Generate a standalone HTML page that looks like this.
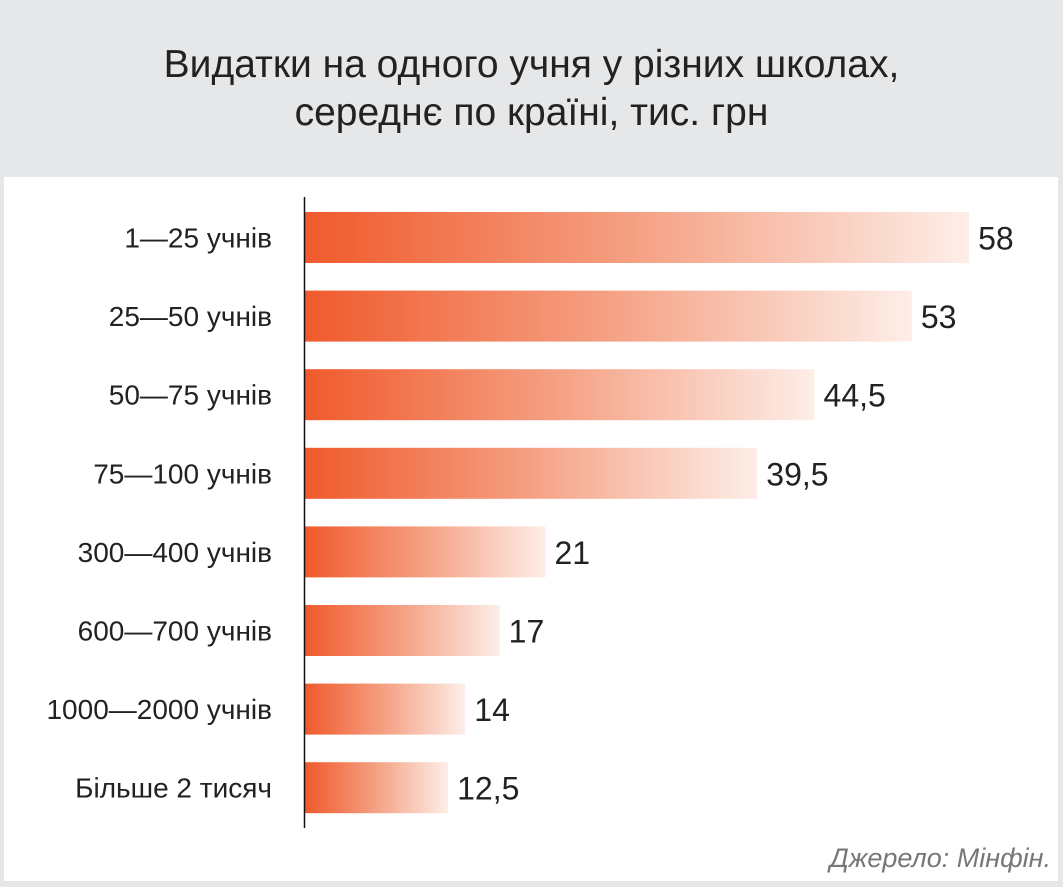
<!DOCTYPE html>
<html><head><meta charset="utf-8"><style>
html,body{margin:0;padding:0}
body{width:1063px;height:887px;background:#e6e7e9;position:relative;overflow:hidden;font-family:"Liberation Sans","DejaVu Sans",sans-serif}
#title{position:absolute;left:0;top:41px;width:1063px;text-align:center;font-size:39px;line-height:48px;color:#222}
#panel{position:absolute;left:4px;top:177px;width:1054px;height:704px;background:#fff}
#source{position:absolute;right:12px;top:843px;font-size:27px;font-style:italic;color:#777}
</style></head><body>
<div id="title">Видатки на одного учня у різних школах,<br>середнє по країні, тис. грн</div>
<div id="panel"></div>
<svg id="chart" width="1063" height="887" style="position:absolute;left:0;top:0">
<defs><linearGradient id="g" x1="0" x2="1" y1="0" y2="0">
<stop offset="0" stop-color="#f05a2c"/><stop offset="0.5" stop-color="#f5a184"/><stop offset="1" stop-color="#fdeee8"/></linearGradient></defs>
</svg>
<div id="source">Джерело: Мінфін.</div>
<script>
const categories=["1—25 учнів","25—50 учнів","50—75 учнів","75—100 учнів","300—400 учнів","600—700 учнів","1000—2000 учнів","Більше 2 тисяч"];
const values=[58,53,44.5,39.5,21,17,14,12.5];
const valueLabels=["58","53","44,5","39,5","21","17","14","12,5"];
const svg=document.getElementById('chart');
const NS='http://www.w3.org/2000/svg';
const x0=305, scale=11.45, y0=212, step=78.6, bh=51;
const xs=v=>x0+v*scale, ys=i=>y0+i*step;
categories.forEach((c,i)=>{
  const r=document.createElementNS(NS,'rect');
  r.setAttribute('x',x0);r.setAttribute('y',ys(i));r.setAttribute('width',xs(values[i])-x0);r.setAttribute('height',bh);r.setAttribute('fill','url(#g)');
  
  
  svg.appendChild(r);
  const t=document.createElementNS(NS,'text');
  t.setAttribute('x',272);t.setAttribute('y',ys(i)+bh/2+10);t.setAttribute('text-anchor','end');t.setAttribute('font-size','28');t.setAttribute('fill','#222');
  t.textContent=c;
  
  
  svg.appendChild(t);
  const v=document.createElementNS(NS,'text');
  v.setAttribute('x',xs(values[i])+9);v.setAttribute('y',ys(i)+bh/2+12);v.setAttribute('font-size','32');v.setAttribute('fill','#222');
  v.textContent=valueLabels[i];
  
  
  svg.appendChild(v);
});
const ax=document.createElementNS(NS,'line');
ax.setAttribute('x1',304.5);ax.setAttribute('x2',304.5);ax.setAttribute('y1',197);ax.setAttribute('y2',828);ax.setAttribute('stroke','#111');ax.setAttribute('stroke-width','1.5');


svg.appendChild(ax);
</script>
</body></html>
